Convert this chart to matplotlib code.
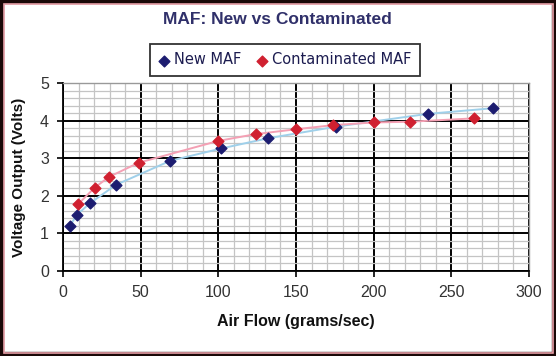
import matplotlib
matplotlib.use("Agg")
import matplotlib.pyplot as plt
from matplotlib.patches import Rectangle
from matplotlib.ticker import MultipleLocator

new_x = [4.5, 8.8, 17.3, 34, 69, 102, 132, 176, 235, 277]
new_y = [1.20, 1.49, 1.80, 2.29, 2.93, 3.26, 3.53, 3.84, 4.18, 4.33]
cont_x = [9.8, 20.5, 29.5, 48.7, 100, 124, 150, 174, 200, 223.5, 264.7]
cont_y = [1.78, 2.22, 2.50, 2.88, 3.46, 3.64, 3.77, 3.88, 3.95, 3.97, 4.06]

title = "MAF: New vs Contaminated"
xlabel = "Air Flow (grams/sec)"
ylabel = "Voltage Output (Volts)"
labels = ["New MAF", "Contaminated MAF"]

W, H = 556, 356
fig = plt.figure(figsize=(W / 100, H / 100), dpi=100)
fig.patch.set_facecolor("white")

# frame
fig.patches.append(Rectangle((0, 0), 1, 1, transform=fig.transFigure,
                             fill=False, edgecolor="#1a0808", linewidth=6, zorder=10))
fig.patches.append(Rectangle((3.5 / W, 3.5 / H), 1 - 7 / W, 1 - 7 / H, transform=fig.transFigure,
                             fill=False, edgecolor="#e8a0a8", linewidth=1.2, zorder=10))

ax = fig.add_axes([63 / W, 1 - 271 / H, (529 - 63) / W, (271 - 83) / H])
ax.set_xlim(0, 300)
ax.set_ylim(0, 5)
ax.xaxis.set_major_locator(MultipleLocator(50))
ax.xaxis.set_minor_locator(MultipleLocator(10))
ax.yaxis.set_major_locator(MultipleLocator(1))
ax.yaxis.set_minor_locator(MultipleLocator(0.2))
ax.grid(which="minor", color="#c4c4c4", linewidth=0.9, zorder=0)
ax.grid(which="major", color="black", linewidth=1.4, zorder=0.5)
ax.set_axisbelow(True)

for s in ["top", "right"]:
    ax.spines[s].set_color("#999999")
    ax.spines[s].set_linewidth(1)
for s in ["left", "bottom"]:
    ax.spines[s].set_color("black")
    ax.spines[s].set_linewidth(1.3)

ax.tick_params(which="major", direction="out", length=4, width=1.2, colors="black",
               labelsize=11.5, labelcolor="#333333", pad=6)
ax.tick_params(which="minor", length=0)
for t in ax.get_xticklabels() + ax.get_yticklabels():
    t.set_family("Liberation Sans")

ax.plot(new_x, new_y, color="#9fd0ea", linewidth=1.4, zorder=2)
ax.plot(cont_x, cont_y, color="#f4a0b4", linewidth=1.4, zorder=2)
h1 = ax.scatter(new_x, new_y, marker="D", s=30, color="#1c1c70", zorder=3, label=labels[0])
h2 = ax.scatter(cont_x, cont_y, marker="D", s=30, color="#d02030", zorder=3, label=labels[1])

ax.set_xlabel(xlabel, fontsize=11.5, fontweight="bold", family="Liberation Sans",
              color="#111111", labelpad=10)
ax.set_ylabel(ylabel, fontsize=11, fontweight="bold", family="Liberation Sans",
              color="#111111", labelpad=10)

fig.text(277 / W, 1 - 20 / H, title, ha="center", va="center", fontsize=12.5,
         fontweight="bold", family="Liberation Sans", color="#30306a")

leg = fig.legend(handles=[h1, h2], labels=labels, loc="center",
                 bbox_to_anchor=(285 / W, 1 - 60 / H), ncol=2, frameon=True,
                 fancybox=False, shadow=False, edgecolor="black", fontsize=10.5,
                 handletextpad=0.3, columnspacing=1.0, handlelength=0.8,
                 borderpad=0.6, markerscale=1.0)
leg.get_frame().set_linewidth(1.3)
for t in leg.get_texts():
    t.set_color("#1c1c50")

fig.savefig("out.png", dpi=100, facecolor="white")
